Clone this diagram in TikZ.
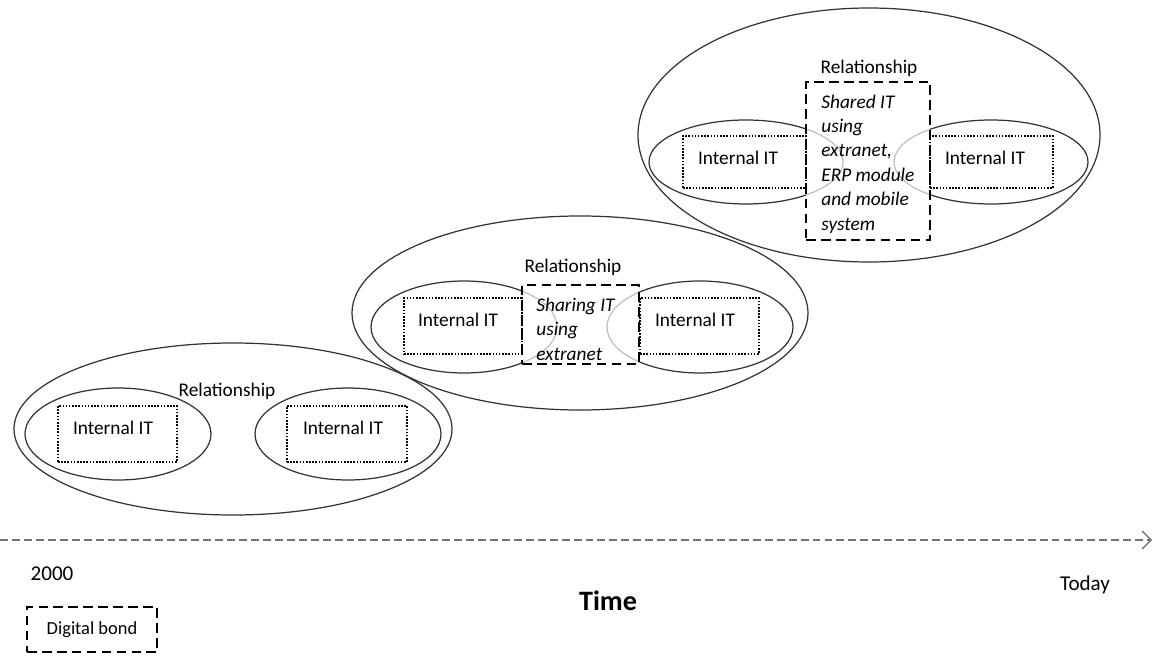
\documentclass[tikz,border=0pt]{standalone}
\usepackage{fontspec}
\setmainfont{Carlito}
\usetikzlibrary{arrows.meta}
\tikzset{
  rel/.style={black!80, line width=0.7pt},
  relgray/.style={black!25, line width=0.7pt},
  itbox/.style={draw, dash pattern=on 0.9pt off 0.9pt, line width=0.8pt, minimum height=1.12cm, inner sep=0pt},
  bondbox/.style={draw, dash pattern=on 5.5pt off 3pt, line width=1.4pt, inner sep=0pt},
  tag/.style={font=\fontsize{11}{13.5}\selectfont, inner sep=0pt},
  shared/.style={font=\fontsize{11}{13.9}\selectfont\itshape, inner sep=0pt, anchor=west, align=left}
}
\begin{document}
\begin{tikzpicture}
\useasboundingbox (0,0) rectangle (23.1,13.1);
% begin 2000
\draw[rel] (4.66,4.52) ellipse (4.38 and 1.72);
\draw[rel] (2.36,4.42) ellipse (1.86 and 0.92);
\draw[rel] (6.96,4.42) ellipse (1.86 and 0.92);
\node[itbox, minimum width=2.38cm] (boxA1) at (2.35,4.42) {};
\node[itbox, minimum width=2.40cm] (boxA2) at (6.94,4.42) {};
\node[tag] (itA1) at (2.26,4.54) {Internal IT};
\node[tag] (itA2) at (6.86,4.54) {Internal IT};
\node[tag] (relA) at (4.54,5.28) {Relationship};
% begin extranet
\draw[rel] (11.60,6.84) ellipse (4.56 and 1.94);
\begin{scope}
\clip (0,0) rectangle (10.44,13.1);
\draw[rel] (9.28,6.56) ellipse (1.86 and 0.92);
\end{scope}
\begin{scope}
\clip (10.44,0) rectangle (23.1,13.1);
\draw[relgray] (9.28,6.56) ellipse (1.86 and 0.92);
\end{scope}
\begin{scope}
\clip (12.78,0) rectangle (23.1,13.1);
\draw[rel] (14.00,6.56) ellipse (1.86 and 0.92);
\end{scope}
\begin{scope}
\clip (0,0) rectangle (12.78,13.1);
\draw[relgray] (14.00,6.56) ellipse (1.86 and 0.92);
\end{scope}
\node[itbox, minimum width=2.36cm] (boxB1) at (9.26,6.58) {};
\node[itbox, minimum width=2.38cm] (boxB2) at (13.99,6.58) {};
\node[bondbox, minimum width=2.34cm, minimum height=1.58cm] (bondB) at (11.61,6.61) {};
\node[tag] (itB1) at (9.16,6.70) {Internal IT};
\node[tag] (itB2) at (13.90,6.70) {Internal IT};
\node[tag] (relB) at (11.46,7.76) {Relationship};
\node[shared] (shB) at (10.72,6.52) {Sharing IT\\using\\extranet};
% begin today
\draw[rel] (17.38,10.40) ellipse (4.62 and 2.54);
\begin{scope}
\clip (0,0) rectangle (16.12,13.1);
\draw[rel] (14.92,9.86) ellipse (1.94 and 0.84);
\end{scope}
\begin{scope}
\clip (16.12,0) rectangle (23.1,13.1);
\draw[relgray] (14.92,9.86) ellipse (1.94 and 0.84);
\end{scope}
\begin{scope}
\clip (18.60,0) rectangle (23.1,13.1);
\draw[rel] (19.82,9.86) ellipse (1.94 and 0.84);
\end{scope}
\begin{scope}
\clip (0,0) rectangle (18.60,13.1);
\draw[relgray] (19.82,9.86) ellipse (1.94 and 0.84);
\end{scope}
\node[itbox, minimum width=2.46cm, minimum height=1.04cm] (boxC1) at (14.89,9.86) {};
\node[itbox, minimum width=2.46cm, minimum height=1.04cm] (boxC2) at (19.83,9.86) {};
\node[bondbox, minimum width=2.48cm, minimum height=3.16cm] (bondC) at (17.36,9.88) {};
\node[tag] (itC1) at (14.76,9.94) {Internal IT};
\node[tag] (itC2) at (19.70,9.94) {Internal IT};
\node[tag] (relC) at (17.38,11.74) {Relationship};
\node[shared] (shC) at (16.42,9.82) {Shared IT\\using\\extranet,\\ERP module\\and mobile\\system};
% begin time axis
\coordinate (t0) at (0,2.30);
\coordinate (t1) at (23.04,2.30);
\draw[black!55, line width=0.8pt, dash pattern=on 4.5pt off 2.3pt, -{Straight Barb[length=5pt,width=10pt]}] (t0) -- (t1);
\node[font=\fontsize{12}{14}\selectfont] (start) at (1.04,1.62) {2000};
\node[font=\fontsize{12}{14}\selectfont] (today) at (21.70,1.40) {Today};
\node[font=\fontsize{16}{19}\selectfont\bfseries] (time) at (12.16,1.08) {Time};
\node[bondbox, minimum width=2.60cm, minimum height=0.90cm, font=\fontsize{10.5}{12}\selectfont] (bond) at (1.84,0.51) {Digital bond};
\end{tikzpicture}
\end{document}
